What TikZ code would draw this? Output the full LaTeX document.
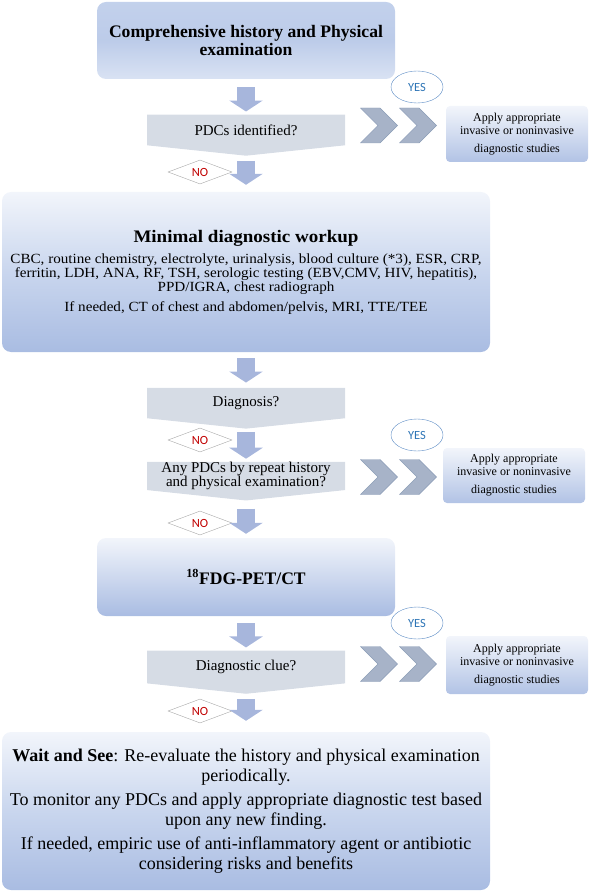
\documentclass[tikz,border=0pt]{standalone}
\usepackage{fontspec}
\setmainfont{Liberation Serif}
\newfontfamily\widefont{Liberation Serif}[FakeStretch=1.08]
\newfontfamily\calibri{Carlito}
\usetikzlibrary{arrows.meta, shapes.symbols, shapes.geometric, positioning}

\definecolor{boxtop}{HTML}{F2F5FB}
\definecolor{boxmid}{HTML}{C9D6EE}
\definecolor{boxbot}{HTML}{A9BCE2}
\definecolor{querygray}{HTML}{D6DCE5}
\definecolor{chevfill}{HTML}{A7B3C8}
\definecolor{chevdraw}{HTML}{8C9DB7}
\definecolor{arrowblue}{HTML}{A7B6DC}
\definecolor{yesblue}{HTML}{5B8BC4}
\definecolor{yestext}{HTML}{2E75B6}
\definecolor{nored}{HTML}{C00000}

\begin{document}
\begin{tikzpicture}[x=1pt, y=-1pt]
	\tikzset{bigbox/.style={rounded corners=9pt, align=center, inner sep=0, top color=boxtop, bottom color=boxbot, middle color=boxmid}}
	\tikzset{headbox/.style={bigbox, top color=boxmid!80!boxbot, bottom color=boxmid!70!white, middle color=boxmid!60!boxbot, minimum width=298pt, font=\bfseries\fontsize{17.6}{18.5}\selectfont}}
	\tikzset{query/.style={signal, signal to=south, signal pointer angle=168, fill=querygray, align=center, inner sep=0, minimum width=198pt, font=\fontsize{15}{14.5}\selectfont}}
	\tikzset{chev/.style={signal, signal from=west, signal to=east, fill=chevfill, draw=chevdraw, minimum width=37pt, minimum height=35pt, inner sep=0}}
	\tikzset{apply/.style={rounded corners=4pt, align=center, inner sep=0, minimum width=142pt, top color=boxtop, bottom color=boxbot!90, font=\fontsize{12}{13}\selectfont}}
	\tikzset{yes/.style={ellipse, draw=yesblue, text=yestext, minimum width=52pt, minimum height=32pt, inner sep=0, font=\calibri\fontsize{12.5}{13}\selectfont}}
	\tikzset{no/.style={diamond, draw=gray!70, text=nored, aspect=2.67, minimum width=64pt, minimum height=24pt, inner sep=0, font=\calibri\fontsize{12.5}{13}\selectfont}}
	\tikzset{down/.style={-{Triangle[width=33pt,length=11pt]}, line width=18pt, draw=arrowblue}}
	\useasboundingbox (0,0) rectangle (592,893);
	% main column
	\node[headbox, minimum height=77pt] at (246, 40.5) (history) {Comprehensive history and Physical\\examination};
	\node[query, minimum height=36pt] at (246, 130) (pdc) {PDCs identified?};
	\node[bigbox, minimum width=488pt, minimum height=160pt, font=\widefont\fontsize{14}{14}\selectfont] at (246, 272) (workup) {{\bfseries\fontsize{17.6}{18}\selectfont Minimal diagnostic workup}\\[7pt]
		CBC, routine chemistry, electrolyte, urinalysis, blood culture (*3), ESR, CRP,\\
		ferritin, LDH, ANA, RF, TSH, serologic testing (EBV,CMV, HIV, hepatitis),\\
		PPD/IGRA, chest radiograph\\[6pt]
		If needed, CT of chest and abdomen/pelvis, MRI, TTE/TEE};
	\node[query, minimum height=34pt] at (246, 403) (diag) {Diagnosis?};
	\node[query, minimum height=36pt] at (246, 476) (repeat) {Any PDCs by repeat history\\and physical examination?};
	\node[headbox, minimum height=78pt, top color=boxtop, middle color=boxmid, bottom color=boxbot] at (246, 577) (pet) {\textsuperscript{18}FDG-PET/CT};
	\node[query, minimum height=38pt] at (246, 667) (clue) {Diagnostic clue?};
	\node[bigbox, minimum width=488pt, minimum height=158pt, font=\fontsize{18}{19.5}\selectfont] at (246, 811) (wait) {\textbf{Wait and See}: Re-evaluate the history and physical examination\\
		periodically.\\[5pt]
		To monitor any PDCs and apply appropriate diagnostic test based\\
		upon any new finding.\\[5pt]
		If needed, empiric use of anti-inflammatory agent or antibiotic\\
		considering risks and benefits};
	% yes branches
	\node[chev] at (379, 125.5) (c1a) {};
	\node[chev] at (418, 125.5) (c1b) {};
	\node[apply, minimum height=56pt] at (517, 134) (apply1) {Apply appropriate\\invasive or noninvasive\\[5pt]diagnostic studies};
	\node[yes] at (417, 87) (yes1) {YES};
	\node[chev] at (379, 477) (c2a) {};
	\node[chev] at (418, 477) (c2b) {};
	\node[apply, minimum height=55pt] at (514, 475.5) (apply2) {Apply appropriate\\invasive or noninvasive\\[5pt]diagnostic studies};
	\node[yes] at (417, 435) (yes2) {YES};
	\node[chev] at (379, 664) (c3a) {};
	\node[chev] at (418, 664) (c3b) {};
	\node[apply, minimum height=58pt] at (517, 665) (apply3) {Apply appropriate\\invasive or noninvasive\\[5pt]diagnostic studies};
	\node[yes] at (417, 623) (yes3) {YES};
	% no labels
	\node[no] at (200, 172) (no1) {NO};
	\node[no] at (200, 440) (no2) {NO};
	\node[no] at (200, 523) (no3) {NO};
	\node[no] at (200, 711) (no4) {NO};
	% block arrows
	\draw[down, shorten <=8pt, shorten >=3pt] (history.south) -- (pdc.north);
	\draw[down, shorten <=5pt, shorten >=7pt] (pdc.south) -- (workup.north);
	\draw[down, shorten <=6pt, shorten >=5pt] (workup.south) -- (diag.north);
	\draw[down, shorten <=3pt, shorten >=3pt] (diag.south) -- (repeat.north);
	\draw[down, shorten <=8pt, shorten >=4pt] (repeat.south) -- (pet.north);
	\draw[down, shorten <=7pt, shorten >=3pt] (pet.south) -- (clue.north);
	\draw[down, shorten <=5pt, shorten >=11pt] (clue.south) -- (wait.north);
\end{tikzpicture}
\end{document}
